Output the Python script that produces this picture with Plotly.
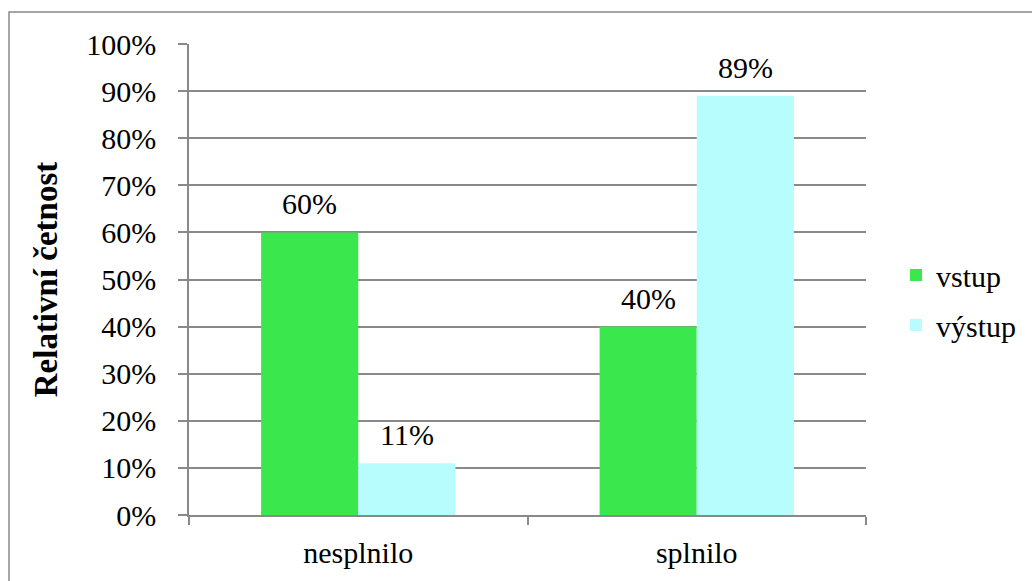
import plotly.graph_objects as go

categories = ["nesplnilo", "splnilo"]
vstup = [0.60, 0.40]
vystup = [0.11, 0.89]
series_names = ["vstup", "výstup"]
y_ticks = [0, 0.1, 0.2, 0.3, 0.4, 0.5, 0.6, 0.7, 0.8, 0.9, 1.0]
y_tick_labels = ["0%", "10%", "20%", "30%", "40%", "50%", "60%", "70%", "80%", "90%", "100%"]

FONT = "Liberation Serif"
GRID = "#898989"
FS = 30

W, H = 1032, 581
L, R, T, B = 189, 166, 44, 66
pw, ph = W - L - R, H - T - B
BARGAP = 0.426
bar_px = pw / len(categories) * (1 - BARGAP) / 2

fig = go.Figure()
colors = ["#3AE84E", "#B8FDFD"]
annotations = []
for i, (name, vals, col, grp) in enumerate(zip(series_names, [vstup, vystup], colors, ["a", "b"])):
    fig.add_trace(go.Bar(
        x=categories, y=vals, name=name, marker=dict(color=col, line=dict(width=0)),
        legendgroup=grp,
    ))
    for c, v in zip(categories, vals):
        annotations.append(dict(
            x=c, y=v, xref="x", yref="y", text=f"{round(v * 100)}%", showarrow=False,
            xshift=(i - 0.5) * bar_px, yanchor="bottom", yshift=10,
            font=dict(family=FONT, size=FS, color="black"),
        ))

fig.update_layout(
    width=W, height=H,
    margin=dict(l=L, r=R, t=T, b=B, autoexpand=False),
    barmode="group", bargap=BARGAP, bargroupgap=0,
    paper_bgcolor="white", plot_bgcolor="white",
    font=dict(family=FONT, size=FS, color="black"),
    showlegend=True,
    legend=dict(x=(896 - L) / pw, xanchor="left", y=(515 - 300) / ph, yanchor="middle",
                font=dict(family=FONT, size=FS, color="black"),
                tracegroupgap=8, traceorder="grouped", bgcolor="rgba(0,0,0,0)"),
    xaxis=dict(showgrid=False, showline=True, linecolor=GRID, linewidth=1.5,
               ticks="outside", tickson="boundaries", ticklen=8, tickcolor=GRID, tickwidth=1.5,
               ticklabelstandoff=10, tickfont=dict(family=FONT, size=FS)),
    yaxis=dict(range=[0, 1], tickvals=y_ticks, ticktext=y_tick_labels,
               showgrid=True, gridcolor=GRID, gridwidth=1.5,
               showline=True, linecolor=GRID, linewidth=1.5,
               ticks="outside", ticklen=9, tickcolor=GRID, tickwidth=1.5,
               ticklabelstandoff=16, tickfont=dict(family=FONT, size=FS),
               zeroline=False,
               title=dict(text="<b>Relativní četnost</b>", font=dict(family=FONT, size=33), standoff=19)),
    annotations=annotations,
    shapes=[dict(type="rect", xref="paper", yref="paper",
                 x0=(9 - L) / pw, x1=(1040 - L) / pw,
                 y0=(515 - 600) / ph, y1=(515 - 12) / ph,
                 line=dict(color=GRID, width=1.5), layer="below")],
)

fig.write_html("out.html")
